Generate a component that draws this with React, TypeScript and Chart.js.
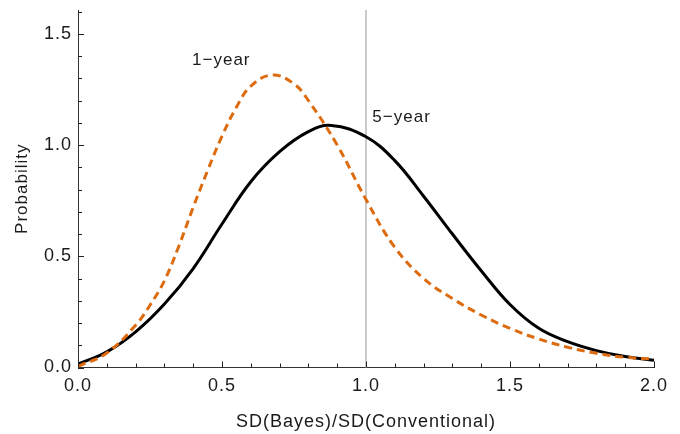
import React, { useEffect, useRef } from 'react';
import { Chart, registerables } from 'chart.js';

Chart.register(...registerables);

// ---- data ----
const xTickValues = [0, 0.5, 1.0, 1.5, 2.0];
const yTickValues = [0, 0.5, 1.0, 1.5];
const xMinorStep = 0.1;
const yMinorStep = 0.1;
const xTitle = 'SD(Bayes)/SD(Conventional)';
const yTitle = 'Probability';
const seriesLabels = ['1−year', '5−year'];
const referenceX = 1.0;

const oneYearX = [0, 0.1, 0.2, 0.25, 0.3, 0.35, 0.4, 0.45, 0.5, 0.55, 0.6, 0.675, 0.75, 0.8, 0.9, 1.0, 1.1, 1.2, 1.3, 1.4, 1.5, 1.6, 1.7, 1.8, 1.9, 2.0];
const oneYearY = [0.005, 0.065, 0.19, 0.28, 0.39, 0.545, 0.72, 0.885, 1.04, 1.17, 1.265, 1.315, 1.275, 1.2, 1.0, 0.755, 0.54, 0.4, 0.31, 0.236, 0.176, 0.128, 0.091, 0.064, 0.046, 0.038];

const fiveYearX = [0, 0.1, 0.2, 0.3, 0.4, 0.5, 0.6, 0.7, 0.8, 0.88, 1.0, 1.1, 1.2, 1.3, 1.4, 1.5, 1.6, 1.7, 1.8, 1.9, 2.0];
const fiveYearY = [0.015, 0.07, 0.16, 0.285, 0.445, 0.645, 0.835, 0.97, 1.06, 1.088, 1.037, 0.93, 0.77, 0.6, 0.435, 0.283, 0.176, 0.116, 0.076, 0.049, 0.033];

// label anchor positions in data coordinates
const labelX = [0.396, 1.022];
const labelY = [1.38, 1.126];

const FONT = "'Liberation Sans', Arial, sans-serif";

const spacingPlugin = {
  id: 'spacing',
  beforeDraw(chart: any) {
    try { (chart.ctx as any).letterSpacing = '1px'; } catch (e) {}
  },
};

const refLinePlugin = {
  id: 'refLine',
  beforeDatasetsDraw(chart: any) {
    const { ctx, chartArea, scales } = chart;
    const px = Math.round(scales.x.getPixelForValue(referenceX));
    ctx.save();
    ctx.strokeStyle = '#b8b8b8';
    ctx.lineWidth = 1.5;
    ctx.beginPath();
    ctx.moveTo(px, chartArea.top);
    ctx.lineTo(px, chartArea.bottom);
    ctx.stroke();
    ctx.restore();
  },
};

const innerTicksPlugin = {
  id: 'insideTickMarks',
  afterDraw(chart: any) {
    const ctx = chart.ctx;
    const area = chart.chartArea;
    const xs = chart.scales.x;
    const ys = chart.scales.y;
    ctx.save();
    ctx.setLineDash([]);
    ctx.strokeStyle = '#222222';
    ctx.lineWidth = 1;
    ctx.beginPath();
    const nx = Math.round((xs.max - xs.min) / xMinorStep);
    for (let i = 0; i <= nx; i++) {
      const v = xs.min + i * xMinorStep;
      const px = Math.round(xs.getPixelForValue(v)) + 0.5;
      const len = i % 5 === 0 ? 6 : 4;
      ctx.moveTo(px, area.bottom);
      ctx.lineTo(px, area.bottom - len);
    }
    const ny = Math.floor((ys.max - ys.min) / yMinorStep + 1e-6);
    for (let i = 0; i <= ny; i++) {
      const v = ys.min + i * yMinorStep;
      const py = Math.round(ys.getPixelForValue(v)) + 0.5;
      const len = i % 5 === 0 ? 6 : 4;
      ctx.moveTo(area.left, py);
      ctx.lineTo(area.left + len, py);
    }
    ctx.stroke();
    ctx.restore();
  },
};

const labelsPlugin = {
  id: 'seriesLabels',
  afterDatasetsDraw(chart: any) {
    const { ctx, scales } = chart;
    ctx.save();
    ctx.fillStyle = '#1a1a1a';
    ctx.font = `17px ${FONT}`;
    ctx.textAlign = 'left';
    ctx.textBaseline = 'middle';
    seriesLabels.forEach((t, i) => {
      ctx.fillText(t, scales.x.getPixelForValue(labelX[i]), scales.y.getPixelForValue(labelY[i]));
    });
    ctx.restore();
  },
};

export default function App() {
  const ref = useRef<HTMLCanvasElement | null>(null);

  useEffect(() => {
    document.body.style.margin = '0';
    const canvas = ref.current;
    if (!canvas) return;
    Chart.defaults.font.family = FONT;
    const chart = new Chart(canvas, {
      type: 'line',
      data: {
        datasets: [
          {
            label: seriesLabels[0],
            data: oneYearX.map((x, i) => ({ x, y: oneYearY[i] })),
            borderColor: '#DD6B10',
            borderWidth: 3,
            borderDash: [8, 5],
            pointRadius: 0,
            fill: false,
            tension: 0.4,
            order: 1,
          },
          {
            label: seriesLabels[1],
            data: fiveYearX.map((x, i) => ({ x, y: fiveYearY[i] })),
            borderColor: '#000000',
            borderWidth: 3,
            pointRadius: 0,
            fill: false,
            tension: 0.4,
            order: 2,
          },
        ],
      },
      options: {
        responsive: false,
        animation: false,
        events: [],
        layout: { padding: { left: 0, top: 10, right: 26, bottom: 0 } },
        plugins: { legend: { display: false }, tooltip: { enabled: false } },
        scales: {
          x: {
            type: 'linear',
            min: 0,
            max: 2,
            afterBuildTicks: (s: any) => { s.ticks = xTickValues.map((v) => ({ value: v })); },
            afterFit: (s: any) => {
              s.height = 66.5;
              s.paddingLeft = 0;
              s.paddingRight = 0;
            },
            grid: { display: false, drawTicks: false },
            border: { display: true, color: '#333', width: 1 },
            ticks: {
              color: '#1a1a1a',
              font: { size: 18 },
              padding: 8,
              maxRotation: 0,
              callback: (v: any) => Number(v).toFixed(1),
            },
            title: {
              display: true,
              text: xTitle,
              color: '#1a1a1a',
              font: { size: 18 },
              padding: { top: 0, bottom: 1 },
            },
          },
          y: {
            type: 'linear',
            min: 0,
            max: 1.607,
            afterBuildTicks: (s: any) => { s.ticks = yTickValues.map((v) => ({ value: v })); },
            afterFit: (s: any) => {
              s.width = 78;
              s.paddingTop = 0;
              s.paddingBottom = 0;
            },
            grid: { display: false, drawTicks: false },
            border: { display: true, color: '#333', width: 1 },
            ticks: {
              color: '#1a1a1a',
              font: { size: 18 },
              padding: 6,
              callback: (v: any) => Number(v).toFixed(1),
            },
            title: {
              display: true,
              text: yTitle,
              color: '#1a1a1a',
              font: { size: 17 },
              padding: { top: 12, bottom: 0 },
            },
          },
        },
      },
      plugins: [spacingPlugin, refLinePlugin, innerTicksPlugin, labelsPlugin],
    } as any);
    return () => chart.destroy();
  }, []);

  return (
    <div style={{ width: 680, height: 434 }}>
      <canvas ref={ref} width={680} height={434} style={{ display: 'block' }} />
    </div>
  );
}
